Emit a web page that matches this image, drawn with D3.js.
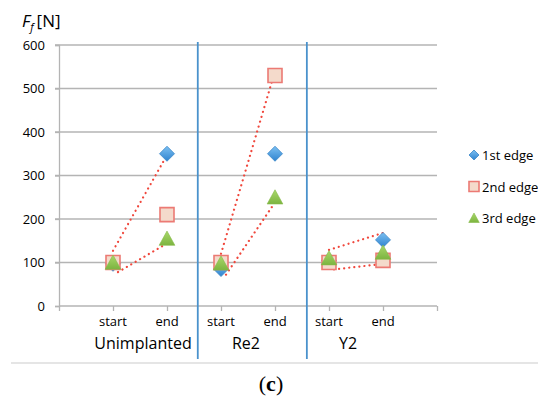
<!DOCTYPE html>
<html>
<head>
<meta charset="utf-8">
<script src="https://cdn.jsdelivr.net/npm/d3@7"></script>
<style>
  body { margin: 0; background: #fff; }
  text { font-family: "Open Sans", "Noto Sans", sans-serif; fill: #000; }
</style>
</head>
<body>
<script>
var groups = ['Unimplanted', 'Re2', 'Y2'],
    phases = ['start', 'end'],
    yTicks = [0, 100, 200, 300, 400, 500, 600],
    seriesNames = ['1st edge', '2nd edge', '3rd edge'];

// values per point: Unimplanted start/end, Re2 start/end, Y2 start/end
var edge1 = [97, 350, 85, 350, 105, 152],
    edge2 = [100, 210, 100, 530, 100, 105],
    edge3 = [100, 155, 98, 250, 110, 123];

// the red dotted guide lines, start value -> end value, by group
var linkGroup = [0, 0, 1, 1, 2, 2],
    linkFrom = [127, 78, 120, 72, 129, 84],
    linkTo = [347, 140, 540, 228, 168, 96];

var width = 538, height = 398;

var x = d3.scaleLinear().domain([0, 7]).range([59, 437]);
var y = d3.scaleLinear().domain([0, 600]).range([306, 45]);

var svg = d3.select('body').append('svg')
    .attr('width', width)
    .attr('height', height);

var defs = svg.append('defs');
var g1 = defs.append('linearGradient').attr('id', 'gBlue').attr('x1', 0).attr('y1', 0).attr('x2', 0).attr('y2', 1);
g1.append('stop').attr('offset', '0%').attr('stop-color', '#7cc0f2');
g1.append('stop').attr('offset', '100%').attr('stop-color', '#2f83cf');
var g3 = defs.append('linearGradient').attr('id', 'gGreen').attr('x1', 0).attr('y1', 0).attr('x2', 0).attr('y2', 1);
g3.append('stop').attr('offset', '0%').attr('stop-color', '#a9d86a');
g3.append('stop').attr('offset', '100%').attr('stop-color', '#7cb440');

// gridlines
svg.append('g')
  .selectAll('line')
  .data(yTicks.filter(function(d) { return d > 0; }))
  .enter().append('line')
    .attr('x1', x(0) - 4).attr('x2', x(7))
    .attr('y1', function(d) { return y(d); })
    .attr('y2', function(d) { return y(d); })
    .attr('stroke', '#b4b4b4').attr('stroke-width', 1.3);

var yAxis = d3.axisLeft(y).tickValues(yTicks).tickSize(4).tickPadding(10);
var ya = svg.append('g').attr('transform', 'translate(' + x(0) + ',0)').call(yAxis);
ya.select('.domain').attr('stroke', '#b4b4b4').attr('stroke-width', 1.3);
ya.selectAll('.tick line').attr('stroke', '#b4b4b4').attr('stroke-width', 1.3);
ya.selectAll('.tick text').style('font-size', '13px').style('font-family', '"Open Sans", sans-serif').attr('fill', '#000');

var xAxis = d3.axisBottom(x).tickValues(d3.range(0, 8)).tickSize(5).tickFormat('');
var xa = svg.append('g').attr('transform', 'translate(0,' + y(0) + ')').call(xAxis);
xa.select('.domain').attr('stroke', '#b4b4b4').attr('stroke-width', 1.3).attr('d', 'M' + x(0) + ',0H' + x(7));
xa.selectAll('.tick line').attr('stroke', '#b4b4b4').attr('stroke-width', 1.3);

// start/end labels
var pts = d3.range(6);
svg.append('g').selectAll('text')
  .data(pts).enter().append('text')
    .attr('x', function(i) { return x(i + 1); })
    .attr('y', 326)
    .attr('text-anchor', 'middle')
    .style('font-size', '13px')
    .text(function(i) { return phases[i % 2]; });

// group labels
var groupShift = [3, -2, -8];
svg.append('g').selectAll('text')
  .data(groups).enter().append('text')
    .attr('x', function(d, i) { return (x(2 * i + 1) + x(2 * i + 2)) / 2 + groupShift[i]; })
    .attr('y', 349)
    .attr('text-anchor', 'middle')
    .style('font-size', '16px')
    .text(function(d) { return d; });

// group separators
svg.append('g').selectAll('line')
  .data([2.57, 4.59]).enter().append('line')
    .attr('x1', function(d) { return x(d); }).attr('x2', function(d) { return x(d); })
    .attr('y1', 42).attr('y2', 359)
    .attr('stroke', '#4a92cc').attr('stroke-width', 1.8);

// bottom rule
svg.append('line')
  .attr('x1', 11).attr('x2', width).attr('y1', 363).attr('y2', 363)
  .attr('stroke', '#cccccc').attr('stroke-width', 1.2);

// dotted links
svg.append('g').selectAll('line')
  .data(linkGroup).enter().append('line')
    .attr('x1', function(gi, i) { return x(2 * gi + 1) + (i % 2 ? 5 : 0); })
    .attr('x2', function(gi, i) { return x(2 * gi + 2) - (i % 2 ? 3 : 0); })
    .attr('y1', function(gi, i) { return y(linkFrom[i]); })
    .attr('y2', function(gi, i) { return y(linkTo[i]); })
    .attr('stroke', '#f0473c').attr('stroke-width', 2.2)
    .attr('stroke-linecap', 'round')
    .attr('stroke-dasharray', '0.1 5');

// marker shapes
function diamond(s) { return 'M0,' + (-s) + 'L' + s + ',0L0,' + s + 'L' + (-s) + ',0Z'; }
function square(s) { return 'M' + (-s) + ',' + (-s) + 'H' + s + 'V' + s + 'H' + (-s) + 'Z'; }
function triangle(s) { return 'M0,' + (-s) + 'L' + (s * 1.05) + ',' + (s * 0.9) + 'H' + (-s * 1.05) + 'Z'; }

var series = [
  { values: edge1, path: diamond, size: 7.5, fill: 'url(#gBlue)', stroke: '#3a86c8', sw: 0.8 },
  { values: edge2, path: square, size: 7, fill: '#f4dacb', stroke: '#ec7a74', sw: 1.6 },
  { values: edge3, path: triangle, size: 7.5, fill: 'url(#gGreen)', stroke: '#86bb4a', sw: 0.6 }
];

series.forEach(function(s) {
  svg.append('g').selectAll('path')
    .data(s.values).enter().append('path')
      .attr('transform', function(d, i) { return 'translate(' + x(i + 1) + ',' + y(d) + ')'; })
      .attr('d', s.path(s.size))
      .attr('fill', s.fill)
      .attr('stroke', s.stroke)
      .attr('stroke-width', s.sw);
});

// legend
var legend = svg.append('g').selectAll('g')
  .data(seriesNames).enter().append('g')
    .attr('transform', function(d, i) { return 'translate(474,' + (155 + i * 31.5) + ')'; });
legend.append('path')
  .attr('d', function(d, i) { return series[i].path(5); })
  .attr('fill', function(d, i) { return series[i].fill; })
  .attr('stroke', function(d, i) { return series[i].stroke; })
  .attr('stroke-width', function(d, i) { return series[i].sw; });
legend.append('text')
  .attr('x', 8).attr('y', 5)
  .style('font-size', '13px')
  .text(function(d) { return d; });

// y title
var yt = svg.append('text').attr('x', 22).attr('y', 27).style('font-size', '17px');
yt.append('tspan').style('font-style', 'italic').text('F');
yt.append('tspan').style('font-style', 'italic').style('font-size', '11px').attr('dy', 4).text('f');
yt.append('tspan').attr('dy', -4).attr('dx', 3).text('[N]');

// panel caption
var cap = svg.append('text')
  .attr('x', 271).attr('y', 391)
  .attr('text-anchor', 'middle')
  .style('font-family', '"Liberation Serif", serif')
  .style('font-size', '22px');
cap.append('tspan').text('(');
cap.append('tspan').style('font-weight', 'bold').text('c');
cap.append('tspan').text(')');
</script>
</body>
</html>
